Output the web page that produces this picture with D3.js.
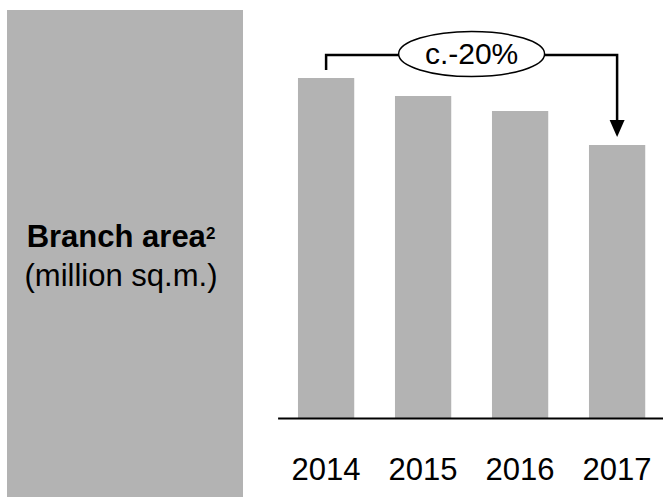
<!DOCTYPE html>
<html>
<head>
<meta charset="utf-8">
<script src="https://cdn.jsdelivr.net/npm/d3@7"></script>
<style>
  html, body { margin: 0; padding: 0; background: #fff; }
  svg { display: block; font-family: "Liberation Sans", Arial, sans-serif; }
</style>
</head>
<body>
<svg id="chart" width="663" height="497"></svg>
<script>
// Branch area by year (million sq.m.)
const years = ["2014", "2015", "2016", "2017"];
const branchArea = [3.40, 3.22, 3.07, 2.73];
const changeLabel = "c.-20%";
const titleBold = "Branch area";
const titleNote = "2";
const titleUnit = "(million sq.m.)";

const W = 663, H = 497;
const grey = "#b3b3b3";
const svg = d3.select("#chart");

// Left caption panel
svg.append("rect")
  .attr("x", 7).attr("y", 10)
  .attr("width", 236).attr("height", H - 10)
  .attr("fill", grey);

const caption = svg.append("text")
  .attr("text-anchor", "middle")
  .attr("fill", "#000")
  .style("font-size", "31px");
const line1 = caption.append("tspan")
  .attr("x", 121).attr("y", 247)
  .style("font-weight", "bold");
line1.append("tspan").text(titleBold);
line1.append("tspan")
  .attr("dy", -8)
  .style("font-size", "17px")
  .text(titleNote);
caption.append("tspan")
  .attr("x", 121).attr("y", 285.5)
  .text(titleUnit);

// Scales
const x = d3.scaleBand()
  .domain(years)
  .range([277.6, 665.6])
  .paddingInner(0.42)
  .paddingOuter(0.21);

const y = d3.scaleLinear()
  .domain([0, 4])
  .range([418, 18]);

// Bars
svg.append("g")
  .selectAll("rect")
  .data(years.map((yr, i) => ({ year: yr, value: branchArea[i] })))
  .join("rect")
  .attr("x", d => x(d.year))
  .attr("y", d => y(d.value))
  .attr("width", x.bandwidth())
  .attr("height", d => y(0) - y(d.value))
  .attr("fill", grey);

// Baseline and year labels
const axis = svg.append("g")
  .attr("transform", `translate(0,${y(0)})`)
  .call(d3.axisBottom(x).tickSize(0).tickSizeOuter(0).tickPadding(39.5));
axis.select(".domain").attr("stroke", "#000").attr("stroke-width", 2);
axis.selectAll(".tick text")
  .attr("fill", "#000")
  .style("font-family", "'Liberation Sans', Arial, sans-serif")
  .style("font-size", "31px");

// Change bracket from first to last year
const first = years[0], last = years[years.length - 1];
const x0 = x(first) + x.bandwidth() / 2;
const x1 = x(last) + x.bandwidth() / 2;
const yTop = y(d3.max(branchArea)) - 23;
const yStart = y(branchArea[0]) - 8;
const yTip = y(branchArea[branchArea.length - 1]) - 8;
const headH = 17, headW = 15;

svg.append("path")
  .attr("d", `M${x0},${yStart} V${yTop} H${x1} V${yTip - headH + 1}`)
  .attr("fill", "none")
  .attr("stroke", "#000")
  .attr("stroke-width", 2.5);

svg.append("path")
  .attr("d", `M${x1 - headW / 2},${yTip - headH} L${x1 + headW / 2},${yTip - headH} L${x1},${yTip} Z`)
  .attr("fill", "#000");

// Change label bubble
const cx = (x0 + x1) / 2;
svg.append("ellipse")
  .attr("cx", cx).attr("cy", yTop - 1)
  .attr("rx", 73).attr("ry", 22.5)
  .attr("fill", "#fff")
  .attr("stroke", "#000")
  .attr("stroke-width", 1.5);

svg.append("text")
  .attr("x", cx).attr("y", yTop + 8.5)
  .attr("text-anchor", "middle")
  .attr("fill", "#000")
  .style("font-size", "30px")
  .text(changeLabel);
</script>
</body>
</html>
